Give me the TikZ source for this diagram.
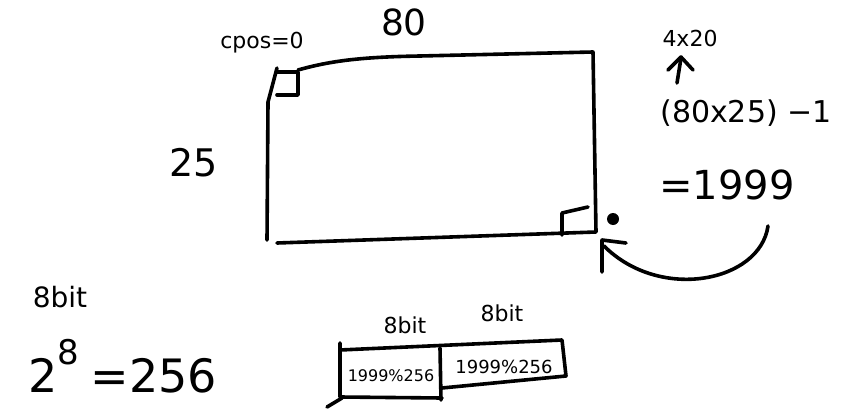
\documentclass[tikz,border=0pt]{standalone}
\usepackage{fontspec}
\setmainfont{DejaVu Sans}
\begin{document}
\begin{tikzpicture}[x=1pt,y=-1pt,
  ink/.style={line width=3.6pt,line cap=round,line join=round},
  hand/.style={inner sep=0pt,font=#1},
  hand/.default={\fontsize{24}{28}\selectfont}]
\useasboundingbox (0,0) rectangle (867,412);
% labels
\node[hand={\fontsize{22}{26}\selectfont}] (cpos) at (262,43) {cpos=0};
\node[hand={\fontsize{36}{40}\selectfont}] (w80) at (404,22) {80};
\node[hand={\fontsize{38}{42}\selectfont}] (h25) at (194,163) {25};
\node[hand={\fontsize{22}{26}\selectfont}] (fx) at (690,38) {4x20};
\node[hand={\fontsize{30}{34}\selectfont}] (expr) at (746,113) {(80x25) −1};
\node[hand={\fontsize{40}{44}\selectfont}] (res) at (727,185) {=1999};
\node[hand={\fontsize{28}{32}\selectfont}] (bits) at (60,297) {8bit};
\node[hand={\fontsize{46}{50}\selectfont},anchor=base west] (pow) at (28,392) {2\raisebox{0.6em}{\fontsize{34}{36}\selectfont 8}\hspace{0.25em}=256};
\node[hand={\fontsize{22}{26}\selectfont}] (b1) at (405,325) {8bit};
\node[hand={\fontsize{22}{26}\selectfont}] (b2) at (502,313) {8bit};
\node[hand={\fontsize{16}{18}\selectfont}] (c1) at (391,376) {1999\%256};
\node[hand={\fontsize{18}{20}\selectfont}] (c2) at (504,367) {1999\%256};
% screen rectangle
\draw[ink] (298,70) .. controls (330,61) and (360,57) .. (420,56) -- (593,52) -- (596,232) -- (277,243);
\draw[ink] (277,68) -- (268,102) -- (267,240);
% cursor cells
\draw[ink] (277,72) -- (298,72) -- (298,95) -- (277,95);
\draw[ink] (562,235) -- (562,213) -- (588,207);
\fill (613,219) circle (6);
% arrow from 1999 to the last cell
\coordinate (a1) at (768,226);
\coordinate (a2) at (604,246);
\draw[ink] (a1) .. controls (760,282) and (660,302) .. (a2);
\draw[ink] (602,272) -- (602,240) -- (626,243);
% up arrow under 4x20
\draw[ink] (677,83) -- (681,58);
\draw[ink] (668,70) -- (681,57) -- (693,70);
% register
\draw[ink] (340,343) -- (340,397) -- (442,398);
\draw[ink] (340,350) -- (562,340) -- (566,376) -- (442,388);
\draw[ink] (440,348) -- (441,400);
\draw[ink] (327,407) -- (342,398);
\end{tikzpicture}
\end{document}
